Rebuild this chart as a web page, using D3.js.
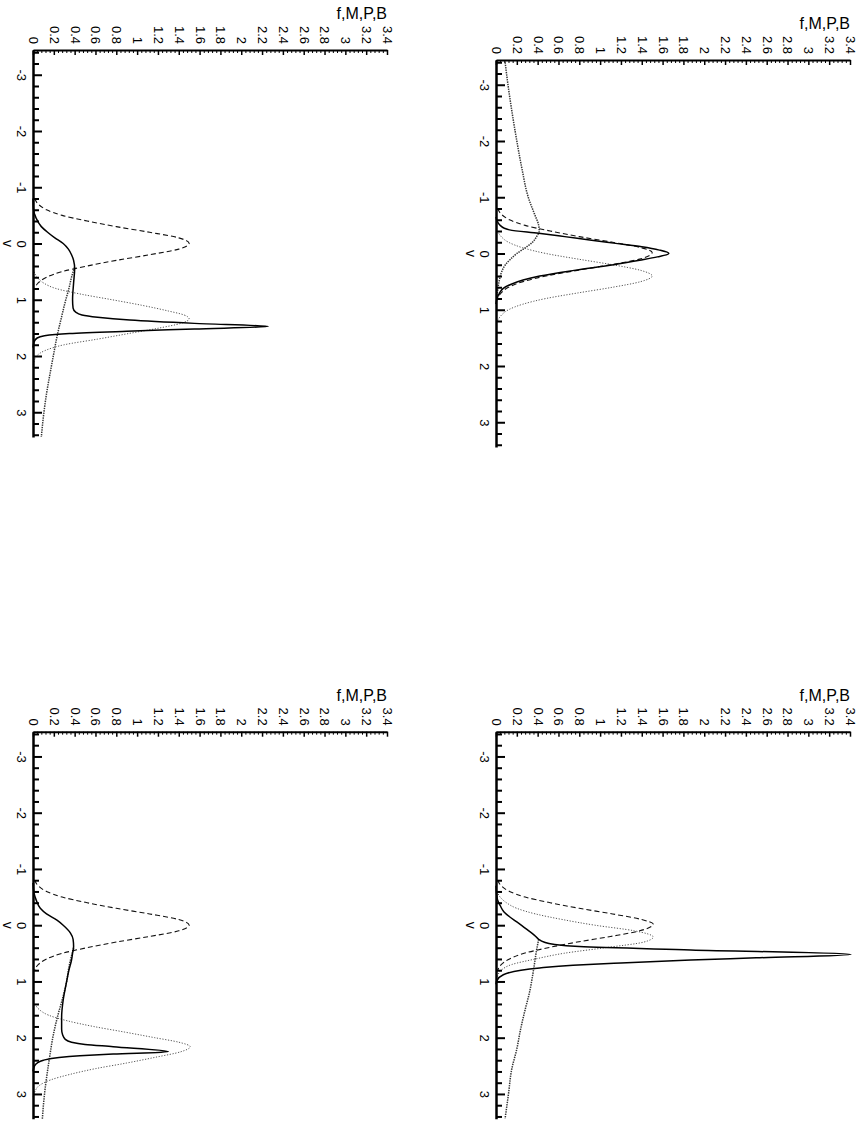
<!DOCTYPE html>
<html>
<head>
<meta charset="utf-8">
<script src="https://cdn.jsdelivr.net/npm/d3@7"></script>
<style>
  body { margin: 0; background: #fff; }
  svg { display: block; font-family: "Liberation Sans", Arial, Helvetica, sans-serif; }
</style>
</head>
<body>
<svg id="chart" width="857" height="1124"></svg>
<script>
// tick values / labels
const fTicks = [0, 0.2, 0.4, 0.6, 0.8, 1, 1.2, 1.4, 1.6, 1.8, 2, 2.2, 2.4, 2.6, 2.8, 3, 3.2, 3.4];
const fTickLabels = ['0', '0.2', '0.4', '0.6', '0.8', '1', '1.2', '1.4', '1.6', '1.8', '2', '2.2', '2.4', '2.6', '2.8', '3', '3.2', '3.4'];
const vTicks = [-3, -2, -1, 0, 1, 2, 3];
const vTickLabels = ['-3', '-2', '-1', '0', '1', '2', '3'];
const fDomain = [0, 3.4];
const vDomain = [-3.44, 3.44];
const yTitle = 'f,M,P,B';
const xTitle = 'v';

// curves as [v, value]
// top left
const tlSolid = [[-0.8,0],[-0.6,0.005],[-0.45,0.03],[-0.3,0.08],[-0.2,0.14],[-0.1,0.21],[0,0.29],[0.1,0.34],[0.2,0.37],[0.3,0.39],[0.45,0.40],[0.7,0.39],[1.0,0.38],[1.15,0.385],[1.22,0.41],[1.27,0.47],[1.31,0.62],[1.36,0.93],[1.42,1.55],[1.475,2.26],[1.52,1.55],[1.56,0.9],[1.6,0.35],[1.64,0.11],[1.68,0.04],[1.75,0.01],[1.85,0]];
const tlDashed = [[-0.8,0.017],[-0.7,0.05],[-0.6,0.13],[-0.5,0.28],[-0.4,0.52],[-0.3,0.80],[-0.2,1.12],[-0.1,1.40],[0,1.50],[0.1,1.40],[0.2,1.12],[0.3,0.80],[0.4,0.52],[0.5,0.28],[0.6,0.13],[0.7,0.05],[0.8,0.017]];
const tlDotted = [[0.5,0.01],[0.6,0.04],[0.7,0.1],[0.8,0.22],[0.9,0.46],[1.0,0.76],[1.1,1.05],[1.2,1.3],[1.27,1.45],[1.34,1.50],[1.42,1.42],[1.5,1.22],[1.6,0.92],[1.7,0.62],[1.8,0.3],[1.9,0.12],[2.0,0.035],[2.1,0.01],[2.2,0]];
const tlTail = [[0.42,0.40],[0.6,0.37],[0.8,0.345],[1.0,0.315],[1.3,0.275],[1.66,0.23],[2.0,0.195],[2.3,0.165],[2.67,0.13],[3.0,0.105],[3.44,0.08]];

// top right
const trSolid = [[-0.65,0],[-0.58,0.01],[-0.5,0.04],[-0.45,0.08],[-0.42,0.13],[-0.36,0.41],[-0.3,0.66],[-0.24,0.9],[-0.18,1.15],[-0.12,1.40],[-0.06,1.57],[0,1.66],[0.06,1.55],[0.12,1.38],[0.2,1.13],[0.3,0.75],[0.4,0.42],[0.47,0.26],[0.55,0.14],[0.62,0.07],[0.7,0.035],[0.8,0.01],[0.9,0]];
const trDashed = [[-0.8,0.017],[-0.7,0.05],[-0.6,0.13],[-0.5,0.28],[-0.4,0.52],[-0.3,0.80],[-0.2,1.12],[-0.1,1.40],[-0.02,1.50],[0.1,1.38],[0.2,1.10],[0.3,0.78],[0.4,0.48],[0.5,0.26],[0.6,0.12],[0.7,0.05],[0.8,0.017]];
const trDotted = [[-0.4,0.015],[-0.3,0.05],[-0.2,0.12],[-0.1,0.26],[0,0.48],[0.1,0.79],[0.2,1.12],[0.3,1.39],[0.4,1.5],[0.5,1.39],[0.6,1.12],[0.7,0.79],[0.8,0.48],[0.9,0.26],[1.0,0.12],[1.1,0.05],[1.2,0.015]];
const trTail = [[-3.44,0.085],[-3.0,0.115],[-2.5,0.155],[-2.0,0.2],[-1.5,0.25],[-1.0,0.31],[-0.7,0.37],[-0.5,0.41],[-0.4,0.415],[-0.3,0.39],[-0.2,0.35],[-0.1,0.28],[0,0.2],[0.1,0.14],[0.2,0.09],[0.3,0.06],[0.45,0.035],[0.6,0.02],[0.8,0.008]];

// bottom left
const blSolid = [[-0.75,0],[-0.57,0.01],[-0.45,0.03],[-0.3,0.07],[-0.2,0.13],[-0.09,0.23],[0,0.29],[0.14,0.36],[0.25,0.385],[0.38,0.39],[0.5,0.38],[0.62,0.37],[0.8,0.345],[1.03,0.32],[1.33,0.29],[1.63,0.275],[1.85,0.275],[1.95,0.285],[2.03,0.31],[2.08,0.37],[2.12,0.5],[2.16,0.77],[2.25,1.30],[2.29,0.77],[2.32,0.45],[2.35,0.25],[2.4,0.1],[2.45,0.04],[2.5,0.015],[2.6,0]];
const blDashed = [[-0.8,0.017],[-0.7,0.05],[-0.6,0.13],[-0.5,0.28],[-0.4,0.52],[-0.3,0.80],[-0.2,1.12],[-0.1,1.40],[0,1.50],[0.1,1.40],[0.2,1.12],[0.3,0.80],[0.4,0.52],[0.5,0.28],[0.6,0.13],[0.7,0.05],[0.8,0.017]];
const blDotted = [[1.4,0.02],[1.5,0.06],[1.6,0.15],[1.7,0.33],[1.8,0.58],[1.9,0.88],[2.0,1.17],[2.08,1.40],[2.16,1.51],[2.25,1.42],[2.35,1.17],[2.45,0.9],[2.55,0.6],[2.65,0.36],[2.75,0.17],[2.85,0.06],[2.95,0.02],[3.05,0]];
const blTail = [[0.4,0.39],[0.7,0.35],[1.03,0.32],[1.33,0.28],[1.63,0.235],[2.0,0.19],[2.34,0.16],[2.65,0.135],[2.93,0.115],[3.2,0.1],[3.44,0.09]];

// bottom right
const brSolid = [[-0.7,0],[-0.57,0.005],[-0.45,0.015],[-0.35,0.04],[-0.24,0.075],[-0.15,0.13],[-0.06,0.2],[0.08,0.3],[0.18,0.37],[0.25,0.41],[0.3,0.46],[0.34,0.55],[0.38,0.8],[0.44,1.87],[0.52,3.41],[0.58,2.5],[0.62,1.87],[0.67,1.2],[0.71,0.74],[0.76,0.42],[0.8,0.24],[0.88,0.07],[0.98,0.01],[1.05,0]];
const brDashed = [[-0.8,0.017],[-0.7,0.05],[-0.6,0.13],[-0.5,0.28],[-0.4,0.52],[-0.3,0.80],[-0.2,1.12],[-0.1,1.40],[-0.02,1.51],[0.1,1.38],[0.2,1.10],[0.3,0.78],[0.4,0.50],[0.5,0.27],[0.6,0.13],[0.7,0.05],[0.8,0.017]];
const brDotted = [[-0.6,0.01],[-0.5,0.04],[-0.4,0.1],[-0.3,0.2],[-0.2,0.38],[-0.1,0.64],[0,0.95],[0.1,1.33],[0.21,1.51],[0.3,1.42],[0.4,1.05],[0.5,0.65],[0.6,0.38],[0.7,0.15],[0.8,0.05],[0.9,0.015],[1.0,0]];
const brTail = [[0.25,0.41],[0.44,0.39],[0.8,0.36],[1.21,0.32],[1.5,0.28],[1.86,0.235],[2.2,0.2],[2.57,0.15],[3.0,0.12],[3.44,0.087]];

const panels = [
  { solid: tlSolid, dashed: tlDashed, dotted: tlDotted, tail: tlTail },
  { solid: trSolid, dashed: trDashed, dotted: trDotted, tail: trTail },
  { solid: blSolid, dashed: blDashed, dotted: blDotted, tail: blTail },
  { solid: brSolid, dashed: brDashed, dotted: brDotted, tail: brTail }
];

// where each panel's axes corner sits
const layout = [
  { x0: 33, y0: 50 },
  { x0: 496, y0: 60 },
  { x0: 33, y0: 731.7 },
  { x0: 496, y0: 731.7 }
];
const pw = 354, ph = 387;

const styles = {
  tail:   { stroke: '#333', width: 1.5, dash: '1.4,1' },
  dotted: { stroke: '#555', width: 1, dash: '1.2,1.6' },
  dashed: { stroke: '#111', width: 1.1, dash: '5,3' },
  solid:  { stroke: '#000', width: 1.5, dash: null }
};

const svg = d3.select('#chart');
svg.append('rect').attr('width', 857).attr('height', 1124).attr('fill', '#fff');

const fMinor = d3.range(0, 3.4001, 0.04).filter(d => Math.abs(d / 0.2 - Math.round(d / 0.2)) > 1e-6);
const vMinor = d3.range(-3.4, 3.4001, 0.2).filter(d => Math.abs(d - Math.round(d)) > 1e-6);

panels.forEach((p, i) => {
  const { x0, y0 } = layout[i];
  const x = d3.scaleLinear().domain(fDomain).range([x0, x0 + pw]);
  const y = d3.scaleLinear().domain(vDomain).range([y0, y0 + ph]);
  const g = svg.append('g');

  const line = d3.line()
    .curve(d3.curveMonotoneY)
    .x(d => x(d[1]))
    .y(d => y(d[0]));

  ['tail', 'dotted', 'dashed', 'solid'].forEach(k => {
    const s = styles[k];
    g.append('path')
      .datum(p[k])
      .attr('d', line)
      .attr('fill', 'none')
      .attr('stroke', s.stroke)
      .attr('stroke-width', s.width)
      .attr('stroke-dasharray', s.dash);
  });

  // f axis along the top
  const fMin = g.append('g').attr('transform', `translate(0,${y0})`)
    .call(d3.axisTop(x).tickValues(fMinor).tickSize(-3).tickSizeOuter(0).tickFormat(''));
  fMin.select('.domain').remove();
  fMin.selectAll('line').attr('stroke-width', 1);

  const fAx = g.append('g').attr('transform', `translate(0,${y0})`)
    .call(d3.axisTop(x).tickValues(fTicks).tickSize(-5).tickSizeOuter(0)
      .tickFormat((d, j) => fTickLabels[j]));
  fAx.select('.domain').attr('stroke-width', 2);
  fAx.selectAll('line').attr('stroke-width', 1.5);
  fAx.selectAll('text')
    .attr('x', 0).attr('y', 0).attr('dy', '0.35em')
    .attr('text-anchor', 'end')
    .attr('transform', 'translate(0,-6) rotate(90)')
    .attr('font-size', 13).attr('font-family', null).attr('fill', '#000');

  // v axis along the left
  const vMin = g.append('g').attr('transform', `translate(${x0},0)`)
    .call(d3.axisLeft(y).tickValues(vMinor).tickSize(-6).tickSizeOuter(0).tickFormat(''));
  vMin.select('.domain').remove();
  vMin.selectAll('line').attr('stroke-width', 2);

  const vAx = g.append('g').attr('transform', `translate(${x0},0)`)
    .call(d3.axisLeft(y).tickValues(vTicks).tickSize(-9).tickSizeOuter(0)
      .tickFormat((d, j) => vTickLabels[j]));
  vAx.select('.domain').attr('stroke-width', 2.5);
  vAx.selectAll('line').attr('stroke-width', 2);
  vAx.selectAll('text')
    .attr('x', 0).attr('y', 0).attr('dy', '0.35em')
    .attr('text-anchor', 'middle')
    .attr('transform', 'translate(-11,0) rotate(90)')
    .attr('font-size', 13).attr('font-family', null).attr('fill', '#000');

  g.append('text')
    .attr('transform', `translate(${x0 - 25},${y(0)}) rotate(90)`)
    .attr('dy', '0.35em')
    .attr('text-anchor', 'middle')
    .attr('font-size', 14)
    .text(xTitle);

  g.append('text')
    .attr('x', x0 + pw).attr('y', y0 - 31)
    .attr('text-anchor', 'end')
    .attr('font-size', 16)
    .text(yTitle);
});
</script>
</body>
</html>
